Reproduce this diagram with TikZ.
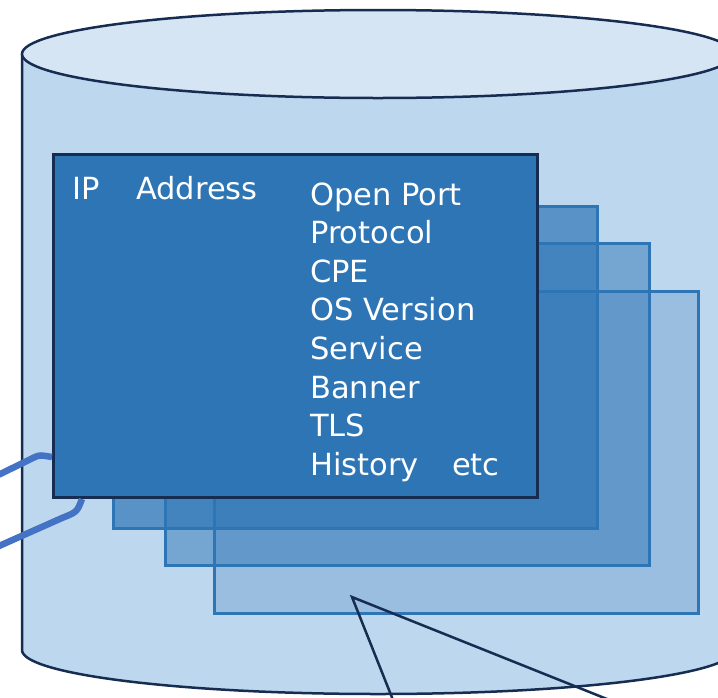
\documentclass[tikz,border=0pt]{standalone}
\usepackage{fontspec}
\setmainfont{DejaVu Sans}
\usetikzlibrary{positioning, calc}
\definecolor{dbnavy}{RGB}{23,44,81}
\definecolor{dbtop}{RGB}{214,229,244}
\definecolor{dbbody}{RGB}{189,215,238}
\definecolor{recblue}{RGB}{46,117,182}
\definecolor{linkblue}{RGB}{68,114,196}

\begin{document}
\begin{tikzpicture}[x=1pt, y=-1pt,
  record/.style={draw=recblue, line width=3pt, fill=recblue, fill opacity=#1,
    minimum width=484pt, minimum height=322pt, inner sep=0pt, anchor=north west},
  fieldtext/.style={text=white, font=\fontsize{30.5}{36}\selectfont, inner sep=0pt, anchor=base west},
  link/.style={linkblue, line width=6.5pt},
  pointer/.style={dbnavy, line width=2.5pt}]
  \useasboundingbox (0,0) rectangle (718,697);
  \clip (0,0) rectangle (718,697);

  % database cylinder
  \fill[dbbody] (22,54) -- (22,650) arc[start angle=180, end angle=0, x radius=356, y radius=44] -- (734,54) -- cycle;
  \draw[dbnavy, line width=2.5pt] (22,54) -- (22,650) arc[start angle=180, end angle=0, x radius=356, y radius=44] -- (734,54);
  \draw[dbnavy, line width=2.5pt, fill=dbtop] (378,54) ellipse[x radius=356, y radius=44];

  % stacked records
  \node[record=0.25] (rec3) at (213,290) {};
  \node[record=0.5] (rec2) at (164,242) {};
  \node[record=0.7] (rec1) at (112,205) {};
  \node[record=1, draw=dbnavy, minimum height=343pt] (front) at (52,153) {};

  \node[fieldtext] (ip) at (72,199) {IP};
  \node[fieldtext] (addr) at (136,199) {Address};
  \foreach \field [count=\i] in {Open Port, Protocol, CPE, OS Version, Service, Banner, TLS, History}
    \node[fieldtext] (field\i) at (310,{205+38.6*(\i-1)}) {\field};
  \node[fieldtext] (etc) at (452,475) {etc};

  % links coming in from the left
  \coordinate (linkA) at (-10,479);
  \coordinate (linkB) at (-10,550);
  \draw[link] (linkA) -- (35,457) .. controls (40,455) .. ($(front.south west)+(0,-42)$);
  \draw[link] (linkB) -- (62,518) .. controls (77,512) .. ($(front.south west)+(30,0)$);

  % callout pointer
  \coordinate (tip) at (352,597);
  \coordinate (tipL) at (395,705);
  \coordinate (tipR) at (622,705);
  \draw[pointer] (tipL) -- (tip) -- (tipR);
\end{tikzpicture}
\end{document}
